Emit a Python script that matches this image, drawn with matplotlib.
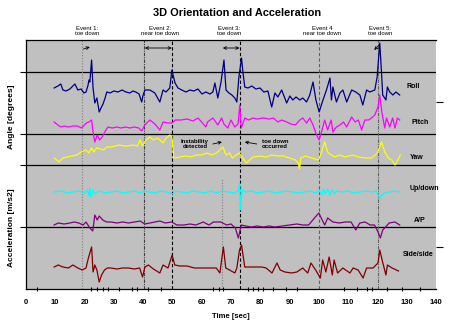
import numpy as np
import matplotlib
matplotlib.use("Agg")
import matplotlib.pyplot as plt

# Time stamps [sec] and trace deviations (positive = up)
roll_t = [9.6, 10.9, 11.9, 12.6, 13.7, 15.0, 16.0, 16.7, 17.7, 18.8, 19.8, 20.5, 21.2, 21.5, 21.8,
          22.4, 22.9, 23.5, 24.2, 25.0, 25.6, 26.3, 27.0, 27.6, 28.7, 30.0, 31.4, 32.8, 34.1, 35.5,
          36.5, 37.5, 38.6, 39.5, 39.9, 40.6, 42.3, 44.0, 45.7, 46.8, 47.8, 49.1, 49.8, 50.9, 51.9,
          53.2, 54.6, 56.0, 57.3, 58.7, 60.1, 61.4, 62.8, 63.8, 64.5, 65.5, 66.6, 67.6, 68.3, 69.3,
          70.3, 71.3, 72.0, 72.7, 73.6, 74.1, 74.7, 75.8, 77.1, 78.5, 79.9, 81.2, 82.6, 83.9, 85.0,
          86.0, 87.3, 88.1, 89.0, 90.1, 91.1, 92.2, 93.5, 94.5, 95.8, 96.9, 98.0, 99.0, 100.1, 101.4,
          102.6, 103.8, 104.3, 104.8, 106.0, 107.2, 108.2, 109.5, 111.2, 112.6, 114.0, 115.0, 116.3,
          117.4, 119.1, 119.9, 120.8, 121.4, 121.8, 122.9, 123.4, 124.2, 125.3, 126.3, 127.6]
roll_v = [4, 6, 8, 2, 1, 3, 6, 8, 2, 3, -1, 0, 7, 12, 10,
          32, 4, -11, -6, -20, -16, -12, -6, 0, -1, 1, 0, 2, 0, -1,
          1, 0, -2, -10, -4, 2, 2, -1, -10, 2, 0, 4, 22, 9, 4,
          2, 0, 2, 1, 3, -2, 0, -2, 0, 9, -6, 10, 32, 2, -1,
          -3, -6, -10, 15, 34, 19, 5, 4, 6, 3, 4, 0, 1, -15, -1,
          -5, 2, -4, -11, -4, -8, -5, -8, -6, -10, -3, 10, -8, -20, -8,
          2, 14, -8, 5, -10, -1, 2, -10, 2, 0, -3, -13, 2,
          0, 2, 15, 49, 19, -3, -8, 5, 0, -3, 0, -3]

pitch_t = [9.6, 10.9, 11.9, 13.0, 14.5, 16.0, 17.5, 19.0, 20.0, 20.6, 21.5, 22.4, 22.9, 23.5, 24.3,
           25.2, 26.0, 27.3, 28.0, 29.5, 31.0, 32.5, 34.0, 35.5, 37.0, 38.5, 39.5, 40.6, 42.3, 44.0,
           45.7, 46.8, 48.5, 49.8, 51.0, 53.0, 55.0, 57.0, 58.7, 60.0, 61.4, 62.0, 63.8, 65.5, 66.8,
           67.6, 68.9, 70.0, 71.3, 72.4, 73.0, 73.5, 74.7, 76.0, 77.5, 79.0, 81.0, 83.0, 84.5, 86.0,
           87.3, 89.0, 90.5, 92.0, 93.5, 94.5, 95.8, 96.9, 98.0, 99.2, 100.1, 100.8, 102.0, 103.0,
           104.2, 104.8, 106.0, 107.2, 108.4, 109.5, 111.2, 112.4, 113.5, 114.6, 115.7, 117.0, 118.0,
           119.1, 120.2, 120.8, 121.5, 122.5, 123.1, 124.2, 125.2, 126.0, 126.8, 127.6]
pitch_v = [4, 1, -1, 0, -1, 0, 0, -2, 1, 3, 4, 6, -6, -16, -9,
           -14, -11, -4, -1, -2, -1, -2, -1, -2, -1, -2, -5, 1, 6, 2,
           -4, 4, 3, 3, 6, 6, 7, 5, 8, 4, -1, 4, 8, 1, 8,
           2, -2, 6, -1, 2, 21, -2, 8, 6, 8, 7, 8, 7, 8, 4,
           6, 4, 2, 1, 6, 8, 3, 8, 1, -9, -14, -7, 6, -4,
           6, -6, -1, 1, 4, -1, 9, 4, 6, -4, 6, 6, 8,
           11, 19, 31, 14, -2, 8, -1, 8, -2, 8, 6]

yaw_t = [9.6, 11.3, 12.6, 14.0, 15.6, 17.3, 18.9, 20.5, 21.5, 22.4, 23.2, 24.1, 25.5, 26.6, 27.6,
         29.0, 30.5, 31.8, 33.5, 35.0, 36.5, 38.0, 39.0, 39.7, 40.9, 42.3, 43.5, 45.0, 46.8, 47.8,
         49.1, 49.8, 50.5, 52.5, 54.5, 56.5, 58.0, 60.0, 61.7, 63.5, 65.0, 66.2, 67.2, 68.3, 69.5,
         70.5, 71.8, 72.8, 74.0, 75.3, 76.4, 77.5, 80.0, 82.0, 84.0, 86.0, 88.0, 90.0, 92.0, 93.0,
         93.4, 93.8, 95.5, 97.5, 99.9, 100.8, 102.0, 103.0, 104.2, 105.5, 107.0, 109.0, 111.5, 113.5,
         116.0, 118.0, 120.0, 121.4, 122.5, 123.7, 124.9, 126.0, 127.0, 127.8]
yaw_v = [-1, -5, -1, 0, 1, 2, 5, 7, 4, 9, 5, 9, 8, 7, 10,
         10, 11, 12, 11, 11, 12, 11, 17, 11, 17, 20, 17, 19, 14, 19,
         22, 20, -1, 0, 1, 0, 2, 2, 4, 2, 4, 7, 10, 2, 4,
         -1, 2, 4, -1, -6, -3, 0, 1, 0, 2, 1, 1, -1, -3, -6,
         -12, -1, 1, -1, -3, 4, 15, 5, 2, 0, 2, 0, 2, 0,
         -1, -1, 4, 15, 5, -1, -3, -8, -3, 2]

updown_t = [9.6, 12, 14, 16, 18, 20, 21.0, 21.5, 21.8, 22.2, 22.8, 23.5, 25, 27, 29, 31, 33, 35,
            37, 39, 40.5, 42, 44, 46, 48, 50, 51, 53, 55, 57, 59, 61, 63, 65, 67, 69, 71, 72.5,
            73.0, 73.3, 73.8, 75, 77, 79, 81, 83, 85, 87, 89, 91, 93, 95, 97, 99, 100, 101, 101.6,
            102.2, 103, 103.8, 104.5, 105.3, 106, 108, 110, 112, 114, 116, 118, 119.5, 120.3, 120.8,
            121.5, 122.5, 124, 126, 127.6]
updown_v = [0, 1, -1, 0, 1, -1, 2, -4, 4, -5, 2, -2, 1, -1, 0, 1, -1, 0,
            1, -1, 1, 0, -1, 1, 0, -2, 1, 0, -1, 1, 0, -1, 1, -1, 1, 0, -1, 1,
            9, -18, 2, 0, 1, -1, 0, 1, -1, 0, 1, 0, -1, 0, 1, -1, 2, -3, 3,
            -2, 3, -3, 2, -2, 1, 0, 1, -1, 0, 1, 0, 1, -3, -6,
            -3, -1, 0, 1, 0]

ap_t = [9.6, 11, 13, 15, 16.5, 18, 19.5, 20.5, 21.8, 22.8, 23.5, 24.3, 25.0, 26.2, 27.5, 29, 31,
        33, 35, 37, 39, 40.5, 42.3, 44, 45.7, 47.5, 49.8, 51.5, 54, 56, 58, 60.5, 62.5, 64, 66.5,
        68.5, 70, 71.5, 72.5, 73.5, 75, 77, 79, 81, 83, 85, 87.5, 90, 92.5, 94.5, 96.5, 98.5, 100.0,
        100.8, 102, 103, 104.8, 107, 109, 111, 112.6, 114, 115.8, 117.5, 119, 120.2, 121.0, 121.8,
        122.8, 124, 126, 127.6]
ap_v = [-1, 1, 0, 1, 2, 1, -1, 2, -4, -7, 9, 4, 8, 4, 2, 2, 1,
        2, 1, 2, 3, 0, 1, 2, 3, 1, 2, -1, -1, 0, -1, 2, -1, 2, 2,
        -1, 0, -4, -14, -1, -2, -3, -2, -3, -2, -3, -2, -1, 0, -1, -1, 6, 11,
        6, -1, 6, 2, 1, 2, 2, -6, 1, 2, -1, -1, -8, -14, -6,
        -3, 1, 2, -1]

side_t = [9.6, 11, 12.6, 14.5, 16, 17.7, 19.2, 20.5, 21.3, 22.4, 22.9, 23.5, 24.2, 25.0, 25.8,
          26.8, 27.8, 29, 31, 33, 35, 37, 38.8, 39.8, 40.6, 41.8, 43.5, 45.7, 46.8, 48.5, 49.9,
          50.8, 52.5, 55, 57.5, 60, 62.5, 65, 66.2, 67.4, 68.2, 69.5, 71.3, 72.0, 72.9, 73.6, 74.7,
          76.5, 78.5, 80.5, 82, 84, 85.7, 86.8, 88.4, 90.7, 92.5, 94.5, 96.2, 97.3, 98.9, 100.5,
          101.3, 102.4, 103.5, 104.6, 105.2, 106.4, 108.2, 110.6, 111.7, 113.4, 115.1, 116.3, 118.5,
          120.2, 120.8, 121.6, 122.9, 123.4, 125, 127.2]
side_v = [-1, 1, -1, -2, 1, -2, -4, -2, 8, 19, -6, 1, -4, -16, -9,
          -4, -2, -2, -3, -2, -2, -3, -2, -11, -1, 1, -3, -7, 1, -2, 11,
          1, 0, 0, -2, -2, -2, -2, -7, 19, -2, -4, -7, -2, 16, 21, -1,
          -1, -1, -1, -2, -7, 3, -4, -6, -7, -6, -2, -7, 3, -4, -12,
          6, -6, 9, -9, 6, -7, -2, -7, -2, -4, -12, -2, -2,
          3, 16, 6, -9, 1, -2, -5]

series_names = ["Roll", "Pitch", "Yaw", "Up/down", "A/P", "Side/side"]

event_times = [19.2, 40.3, 49.9, 67.0, 73.2, 100.0, 120.3]
event_labels = ["Event 1:\ntoe down", "Event 2:\nnear toe down", "Event 3:\ntoe down",
                "Event 4\nnear toe down", "Event 5:\ntoe down"]
event_label_t = [20.8, 45.7, 69.3, 101.0, 120.8]

x_ticks = list(range(0, 150, 10))
x_minor_ticks = [3.9, 22.1, 24.1, 26.2, 28.1, 31.9, 36.1, 37.8, 41.7, 46.0, 63.7, 66.0, 67.1,
                 75.8, 77.6, 79.2, 80.9, 84.2, 88.9, 92.4, 108.7, 113.1, 116.5, 118.0, 123.4,
                 128.5, 134.6]

plt.rcParams['font.family'] = ['Liberation Sans', 'DejaVu Sans']


def plot_chart():
    """Stacked orientation / acceleration traces on one grey panel."""
    fig = plt.figure(figsize=(4.5, 3.27), dpi=100)
    ax = fig.add_axes([26 / 450, 38 / 327, 410 / 450, 249 / 327])
    ax.set_facecolor('#C0C0C0')
    ax.set_xlim(0, 140)
    ax.set_ylim(0, 249)

    traces = [(roll_t, roll_v, '#000080', 197), (pitch_t, pitch_v, '#FF00FF', 163),
              (yaw_t, yaw_v, '#FFFF00', 132), (updown_t, updown_v, '#00FFFF', 97),
              (ap_t, ap_v, '#800080', 65), (side_t, side_v, '#800000', 23)]
    label_pos = [(130, 203), (131.5, 167), (131, 132), (131, 101), (132.5, 68), (128.7, 34)]

    # horizontal separator lines
    for y in [62, 124, 155, 217]:
        ax.axhline(y, color='black', lw=0.9, zorder=1)

    # event lines
    styles = [('#808080', (0, (1, 1.5)), 0, 1), ('#404040', (0, (3, 1, 1, 1)), 0, 1),
              ('black', (0, (3, 2)), 0, 1), ('#808080', (0, (1, 1.5)), 0, 0.44),
              ('black', (0, (3, 2)), 0, 1), ('#606060', (0, (3, 2)), 0, 1),
              ('#606060', (0, (3, 1, 1, 1)), 0, 1)]
    for t, (c, ls, y0, y1) in zip(event_times, styles):
        ax.axvline(t, ymin=y0, ymax=y1, color=c, ls=ls, lw=0.8, zorder=2)

    for (t, v, c, off), name, (lx, ly) in zip(traces, series_names, label_pos):
        ax.plot(t, np.array(v) + off, color=c, lw=0.9, zorder=3)
        ax.text(lx, ly, name, fontsize=5, fontweight='bold', va='center', ha='left')

    # arrows along the top
    arw = dict(arrowstyle='<->', color='black', lw=0.6, shrinkA=0, shrinkB=0,
               mutation_scale=5)
    ax.annotate('', xy=(40.6, 241), xytext=(49.8, 241), arrowprops=arw)
    ax.annotate('', xy=(67.2, 241), xytext=(72.9, 241), arrowprops=arw)
    one = dict(arrowstyle='->', color='black', lw=0.6, shrinkA=0, shrinkB=0, mutation_scale=5)
    ax.annotate('', xy=(21.8, 242), xytext=(19.6, 240), arrowprops=one)
    ax.annotate('', xy=(118.9, 239), xytext=(120.6, 244), arrowprops=one)
    ax.annotate('', xy=(66.9, 147), xytext=(63.8, 145), arrowprops=one)
    ax.annotate('', xy=(74.7, 147), xytext=(78.8, 145), arrowprops=one)

    ax.text(57.7, 145, "instability\ndetected", fontsize=4.3, fontweight='bold',
            ha='center', va='center', linespacing=1.1)
    ax.text(85.0, 145, "toe down\noccurred", fontsize=4.3, fontweight='bold',
            ha='center', va='center', linespacing=1.1)

    for t, lab in zip(event_label_t, event_labels):
        ax.text(t, 258, lab, fontsize=4.3, ha='center', va='center', linespacing=1.2,
                clip_on=False)

    # axes and ticks
    ax.spines['right'].set_visible(False)
    for s in ['left', 'bottom', 'top']:
        ax.spines[s].set_linewidth(0.9)
    ax.set_xticks(x_ticks)
    ax.set_xticklabels([str(x) for x in x_ticks], fontsize=5.5, fontweight='bold')
    ax.set_xticks(x_minor_ticks, minor=True)
    ax.tick_params(axis='x', which='major', length=0, pad=7)
    ax.tick_params(axis='x', which='minor', length=3, width=0.8, direction='inout')
    ax.set_yticks([62, 124, 155, 217])
    ax.set_yticklabels([])
    ax.tick_params(axis='y', length=4, width=0.8, direction='out')

    ax2 = ax.twinx()
    ax2.set_ylim(0, 249)
    ax2.set_yticks([42, 187])
    ax2.set_yticklabels([])
    ax2.tick_params(axis='y', length=5, width=0.8, direction='out')
    for s in ax2.spines.values():
        s.set_visible(False)

    fig.text(237 / 450, 1 - 13 / 327, "3D Orientation and Acceleration", fontsize=7.9,
             fontweight='bold', ha='center', va='center')
    fig.text(231 / 450, 1 - 316 / 327, "Time [sec]", fontsize=5.5, fontweight='bold',
             ha='center', va='center')
    fig.text(12 / 450, 1 - 117 / 327, "Angle [degrees]", fontsize=6, fontweight='bold',
             ha='center', va='center', rotation=90)
    fig.text(12 / 450, 1 - 228 / 327, "Acceleration [m/s2]", fontsize=6, fontweight='bold',
             ha='center', va='center', rotation=90)

    fig.savefig("out.png", dpi=100)


def main():
    plot_chart()


if __name__ == "__main__":
    main()
